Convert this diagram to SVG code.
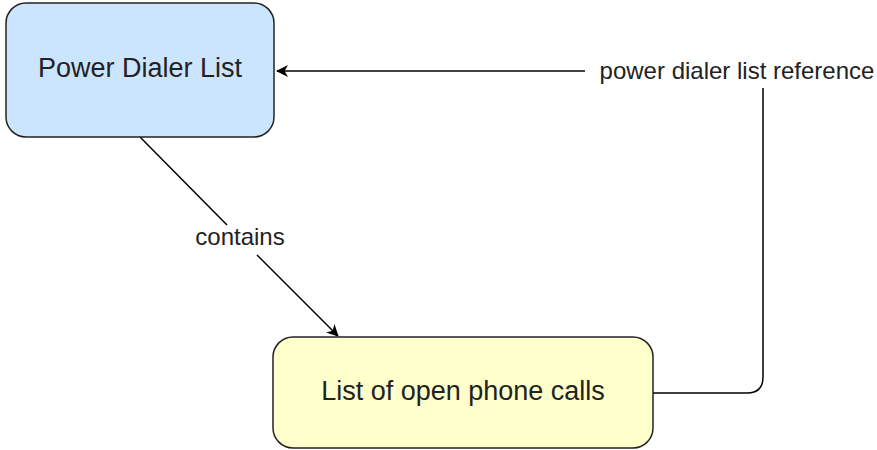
<svg xmlns="http://www.w3.org/2000/svg" width="877" height="450" viewBox="0 0 877 450">
<defs>
<marker id="arr" viewBox="0 0 12 12" refX="11" refY="6" markerWidth="12" markerHeight="12" markerUnits="userSpaceOnUse" orient="auto">
<path d="M0,0 L12,6 L0,12 L3.5,6 Z" fill="#000"/>
</marker>
</defs>
<style>
.node { stroke: #222; stroke-width: 1.5; }
.t { font-family: "Liberation Sans", Arial, sans-serif; fill: #222; text-anchor: middle; }
.nt { font-size: 27px; }
.et { font-size: 24px; }
.edge { fill: none; stroke: #000; stroke-width: 1.5; }
</style>
<g id="connectors">
<path class="edge" d="M140,137 L227,225"/>
<path class="edge" d="M257,255 L338,336" marker-end="url(#arr)"/>
<path class="edge" d="M653,393 L747,393 Q763,393 763,377 L763,88"/>
<path class="edge" d="M585,71 L277,71" marker-end="url(#arr)"/>
<text class="t et" x="240" y="245">contains</text>
<text class="t et" x="737" y="79">power dialer list reference</text>
</g>
<g id="power-dialer-list">
<rect class="node" x="6" y="3" width="268" height="134" rx="20" fill="#cce5ff"/>
<text class="t nt" x="140" y="77">Power Dialer List</text>
</g>
<g id="open-phone-calls">
<rect class="node" x="273" y="337" width="380" height="111" rx="20" fill="#ffffcc"/>
<text class="t nt" x="463" y="400">List of open phone calls</text>
</g>
</svg>
